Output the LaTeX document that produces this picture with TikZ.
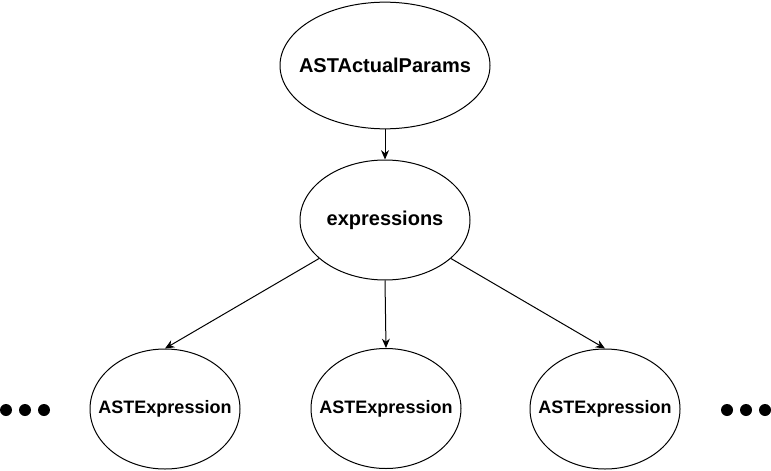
\documentclass[tikz,border=0pt]{standalone}
\usepackage{fontspec}
\setmainfont{Liberation Sans}
\usepackage{tikz}
\usetikzlibrary{positioning, shapes.geometric, arrows.meta}

\begin{document}
\begin{tikzpicture}[
    x=0.75pt, y=-0.75pt,
    astnode/.style={draw, ellipse, line width=0.75pt, inner sep=0pt},
    bigtext/.style={font=\fontsize{15}{18}\selectfont\bfseries},
    leaftext/.style={font=\fontsize{13.5}{16}\selectfont\bfseries},
    leafnode/.style={astnode, minimum width=112.5pt, minimum height=90pt},
    link/.style={-{Stealth[length=7pt, width=6pt]}, line width=0.75pt}
]
\useasboundingbox (0,0) rectangle (771,471);

% Root
\node[astnode, minimum width=157.5pt, minimum height=95pt,
    label={[bigtext]center:ASTActualParams}] (params) at (385,65.5) {};

% List node
\node[astnode, minimum width=127.5pt, minimum height=90pt,
    label={[bigtext]center:expressions}] (exprs) at (385,220) {};

% Children
\node[leafnode, label={[leaftext]center:ASTExpression}] (exprA) at (165,409) {};
\node[leafnode, label={[leaftext]center:ASTExpression}] (exprB) at (386,408.5) {};
\node[leafnode, label={[leaftext]center:ASTExpression}] (exprC) at (605,409) {};

% Edges
\draw[link] (params) -- (exprs);
\draw[link] (exprs) -- (exprA.north);
\draw[link] (exprs.south) -- (exprB.north);
\draw[link] (exprs) -- (exprC.north);

% Ellipsis dots
\foreach \dx in {6,25,44,727,746,765}
    \fill (\dx,410) circle (4.5pt);

\end{tikzpicture}
\end{document}
